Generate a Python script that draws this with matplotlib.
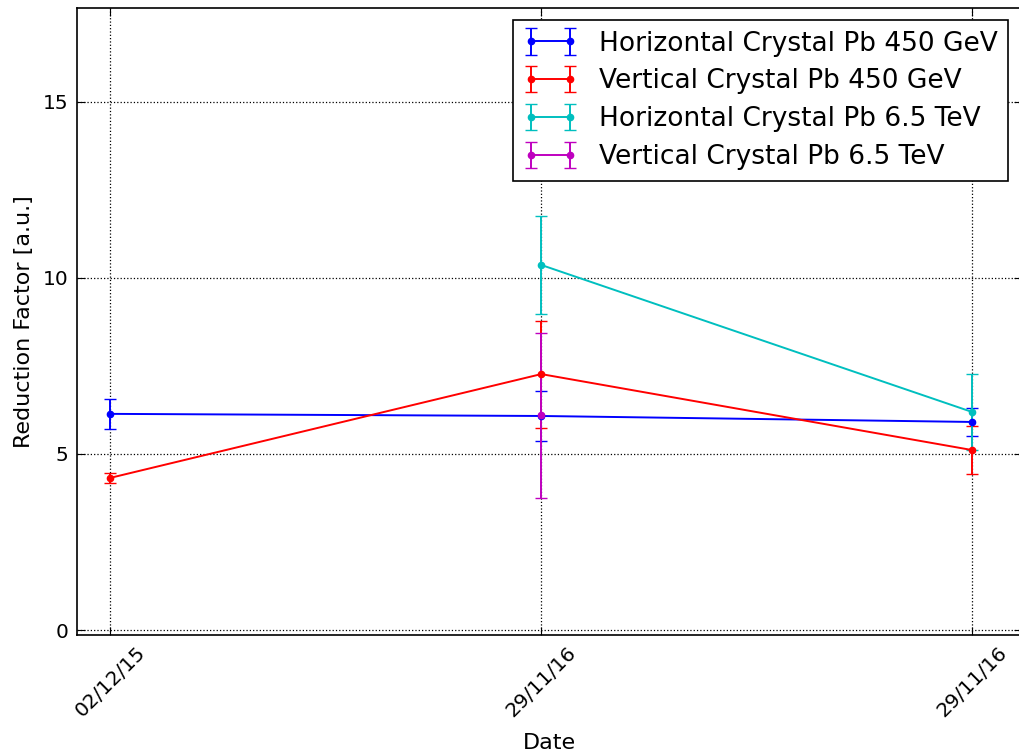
import matplotlib
matplotlib.use("Agg")
import matplotlib.pyplot as plt

dates = ["02/12/15", "29/11/16", "29/11/16"]

h450_x = [0, 1, 2]
h450_y = [6.14, 6.08, 5.91]
h450_e = [0.42, 0.71, 0.40]

v450_x = [0, 1, 2]
v450_y = [4.32, 7.27, 5.11]
v450_e = [0.14, 1.52, 0.69]

h65_x = [1, 2]
h65_y = [10.37, 6.19]
h65_e = [1.40, 1.09]

v65_x = [1]
v65_y = [6.10]
v65_e = [2.35]

labels = ["Horizontal Crystal Pb 450 GeV", "Vertical Crystal Pb 450 GeV",
          "Horizontal Crystal Pb 6.5 TeV", "Vertical Crystal Pb 6.5 TeV"]
colors = ["b", "r", "c", "m"]

fig = plt.figure(figsize=(10.19, 7.54), dpi=100)
ax = fig.add_axes([77/1019, 119/754, 1.003 - 77/1019, (635-8)/754])

series = [(h450_x, h450_y, h450_e), (v450_x, v450_y, v450_e),
          (h65_x, h65_y, h65_e), (v65_x, v65_y, v65_e)]
for (x, y, e), lab, c in zip(series, labels, colors):
    ax.errorbar(x, y, yerr=e, color=c, marker='o', markersize=4.5,
                markeredgecolor=c, linewidth=1.4, capsize=4, elinewidth=1.4,
                label=lab)

ax.set_xlim(-0.0766, 2.115)
ax.set_ylim(-0.142, 17.67)
ax.set_yticks([0, 5, 10, 15])
ax.set_xticks([0, 1, 2])
ax.set_xticklabels(dates, rotation=45, ha='center', fontsize=14.5)
ax.tick_params(axis='y', labelsize=14.5)
ax.tick_params(direction='in', length=6, top=True, right=True, pad=6)
ax.grid(True, linestyle=':', color='k', linewidth=0.9)
for s in ax.spines.values():
    s.set_linewidth(1.2)

ax.set_xlabel("Date", fontsize=16)
ax.set_ylabel("Reduction Factor [a.u.]", fontsize=16)
ax.xaxis.set_label_coords(0.5, -0.156)
ax.yaxis.set_label_coords(-0.0456, 0.5)

leg = ax.legend(loc='upper right', bbox_to_anchor=(1008/1019, 1 - 20/754),
                bbox_transform=fig.transFigure, numpoints=2, fontsize=19,
                fancybox=False, framealpha=1, handlelength=2.05,
                borderaxespad=0, labelspacing=0.45)
leg.get_frame().set_edgecolor('k')
leg.get_frame().set_linewidth(1.2)

fig.savefig("out.png", dpi=100)
